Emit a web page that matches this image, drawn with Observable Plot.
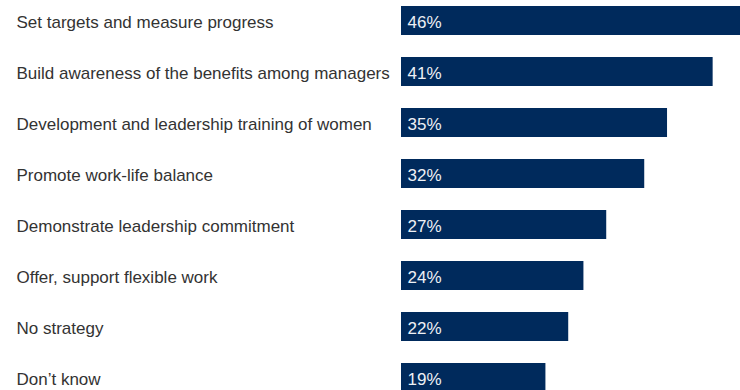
<!DOCTYPE html>
<html>
<head>
<meta charset="utf-8">
<script src="https://cdn.jsdelivr.net/npm/d3@7"></script>
<script src="https://cdn.jsdelivr.net/npm/@observablehq/plot@0.6"></script>
<style>
  html, body { margin: 0; padding: 0; background: #fff; overflow: hidden; }
  #chart svg { display: block; }
</style>
</head>
<body>
<div id="chart"></div>
<script>
// Strategies for improving gender balance, share of respondents (%)
const strategies = [
  "Set targets and measure progress",
  "Build awareness of the benefits among managers",
  "Development and leadership training of women",
  "Promote work-life balance",
  "Demonstrate leadership commitment",
  "Offer, support flexible work",
  "No strategy",
  "Don\u2019t know"
];
const shares = [46, 41, 35, 32, 27, 24, 22, 19];

const data = strategies.map((s, i) => ({strategy: s, share: shares[i]}));

const font = "'Liberation Sans', Arial, sans-serif";

const chart = Plot.plot({
  width: 740,
  height: 390,
  marginLeft: 401,
  marginRight: 0,
  marginTop: 0,
  marginBottom: 0,
  style: {fontFamily: font, fontSize: "17px", background: "#fff", overflow: "hidden"},
  x: {domain: [0, 44.6], axis: null},
  y: {domain: strategies, range: [5, 392], paddingInner: 0.433, paddingOuter: 0, axis: null},
  marks: [
    Plot.barX(data, {x: "share", y: "strategy", fill: "#002a5c", clip: true}),
    Plot.text(data, {
      x: 0, y: "strategy", text: d => `${d.share}%`,
      textAnchor: "start", dx: 6, dy: 2, fill: "#eef0f5",
      fontSize: 17
    }),
    Plot.text(data, {
      y: "strategy", text: "strategy", frameAnchor: "left",
      textAnchor: "start", dx: -385, dy: 2, fill: "#333333",
      fontSize: 17
    })
  ]
});

document.getElementById("chart").append(chart);
</script>
</body>
</html>
